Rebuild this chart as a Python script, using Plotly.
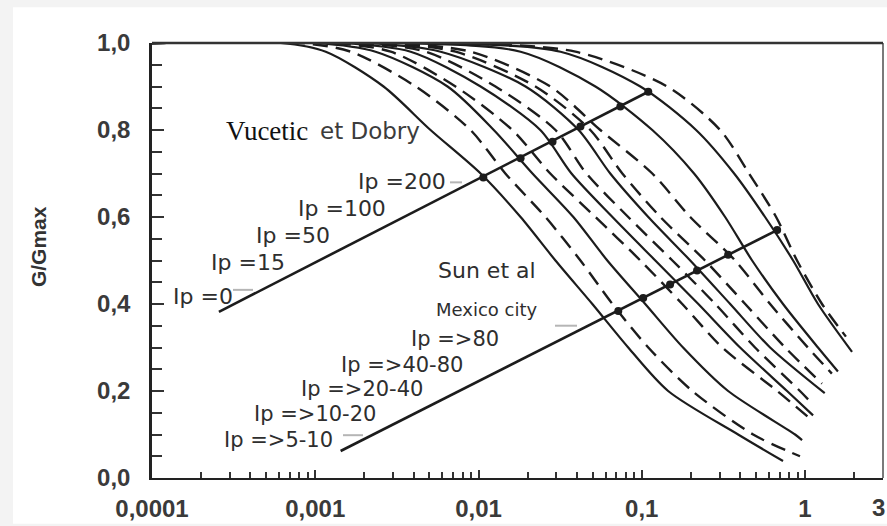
import plotly.graph_objects as go

# Shear strain (%) and G/Gmax for each degradation curve
# Vucetic & Dobry (solid)
vd_ip0_strain = [1e-4, 6.15e-4, 1.16e-3, 2.62e-3, 5.08e-3, 0.0103, 0.0181, 0.0296, 0.0498, 0.0826, 0.145, 0.389, 0.733]
vd_ip0_g = [1.0, 1.0, 0.98, 0.9, 0.8, 0.7, 0.6, 0.5, 0.4, 0.3, 0.2, 0.1, 0.039]
vd_ip15_strain = [1e-4, 1.0e-3, 2.34e-3, 6.46e-3, 0.0124, 0.0214, 0.0381, 0.0615, 0.105, 0.179, 0.338, 0.869, 0.959]
vd_ip15_g = [1.0, 1.0, 0.98, 0.9, 0.8, 0.7, 0.6, 0.5, 0.4, 0.3, 0.2, 0.1, 0.087]
vd_ip30_strain = [1e-4, 1.43e-3, 3.84e-3, 0.0103, 0.0239, 0.0371, 0.0661, 0.121, 0.222, 0.400, 0.776, 1.12]
vd_ip30_g = [1.0, 1.0, 0.98, 0.9, 0.8, 0.7, 0.6, 0.5, 0.4, 0.3, 0.2, 0.144]
vd_ip50_strain = [1e-4, 2.04e-3, 5.86e-3, 0.0194, 0.041, 0.0641, 0.1096, 0.198, 0.348, 0.611, 1.32]
vd_ip50_g = [1.0, 1.0, 0.98, 0.9, 0.8, 0.7, 0.6, 0.5, 0.4, 0.3, 0.195]
vd_ip100_strain = [1e-4, 3.33e-3, 0.0181, 0.052, 0.116, 0.209, 0.324, 0.474, 0.733, 1.20, 1.59]
vd_ip100_g = [1.0, 1.0, 0.98, 0.9, 0.8, 0.7, 0.6, 0.5, 0.4, 0.3, 0.245]
vd_ip200_strain = [1e-4, 5.08e-3, 0.0318, 0.098, 0.215, 0.368, 0.569, 0.845, 1.20, 1.94]
vd_ip200_g = [1.0, 1.0, 0.98, 0.9, 0.8, 0.7, 0.6, 0.5, 0.4, 0.29]

# Sun et al (dashed)
sun_5_10_strain = [1e-4, 8.15e-4, 1.65e-3, 4.12e-3, 8.93e-3, 0.0146, 0.0257, 0.0421, 0.0661, 0.1096, 0.204, 0.481, 0.931]
sun_5_10_g = [1.0, 1.0, 0.98, 0.9, 0.8, 0.7, 0.6, 0.5, 0.4, 0.3, 0.2, 0.1, 0.05]
sun_10_20_strain = [1e-4, 1.24e-3, 2.90e-3, 7.23e-3, 0.0161, 0.0275, 0.052, 0.098, 0.177, 0.311, 0.675, 1.07]
sun_10_20_g = [1.0, 1.0, 0.98, 0.9, 0.8, 0.7, 0.6, 0.5, 0.4, 0.3, 0.2, 0.137]
sun_20_40_strain = [1e-4, 1.77e-3, 4.74e-3, 0.0127, 0.0296, 0.0458, 0.0826, 0.154, 0.282, 0.494, 0.931, 1.10]
sun_20_40_g = [1.0, 1.0, 0.98, 0.9, 0.8, 0.7, 0.6, 0.5, 0.4, 0.3, 0.2, 0.172]
sun_40_80_strain = [1e-4, 2.34e-3, 7.23e-3, 0.0223, 0.0484, 0.0760, 0.130, 0.244, 0.430, 0.755, 1.27]
sun_40_80_g = [1.0, 1.0, 0.98, 0.9, 0.8, 0.7, 0.6, 0.5, 0.4, 0.3, 0.217]
sun_80_strain = [1e-4, 2.70e-3, 8.93e-3, 0.0275, 0.0557, 0.116, 0.198, 0.373, 0.611, 1.04, 1.46]
sun_80_g = [1.0, 1.0, 0.98, 0.9, 0.8, 0.7, 0.6, 0.5, 0.4, 0.3, 0.24]
mexico_strain = [1e-4, 6.74e-3, 0.0392, 0.143, 0.302, 0.454, 0.665, 0.893, 1.27, 1.78]
mexico_g = [1.0, 1.0, 0.98, 0.9, 0.8, 0.7, 0.6, 0.5, 0.4, 0.325]

# Reference lines joining the curves, with their crossing points
vd_line_strain = [2.57e-4, 0.1096]
vd_line_g = [0.382, 0.888]
vd_dots_strain = [0.0107, 0.0181, 0.0284, 0.0421, 0.0739, 0.1096]
vd_dots_g = [0.691, 0.735, 0.773, 0.808, 0.854, 0.888]
sun_line_strain = [1.43e-3, 0.675]
sun_line_g = [0.062, 0.570]
sun_dots_strain = [0.0718, 0.102, 0.149, 0.218, 0.338, 0.675]
sun_dots_g = [0.384, 0.414, 0.445, 0.477, 0.513, 0.570]

x_tick_vals = [0.0001, 0.001, 0.01, 0.1, 1, 3]
x_tick_text = ["0,0001", "0,001", "0,01", "0,1", "1", "3"]

INK = "#1c1c1c"

fig = go.Figure()

solid_curves = [
    (vd_ip0_strain, vd_ip0_g), (vd_ip15_strain, vd_ip15_g), (vd_ip30_strain, vd_ip30_g),
    (vd_ip50_strain, vd_ip50_g), (vd_ip100_strain, vd_ip100_g), (vd_ip200_strain, vd_ip200_g),
]
dashed_curves = [
    (sun_5_10_strain, sun_5_10_g), (sun_10_20_strain, sun_10_20_g), (sun_20_40_strain, sun_20_40_g),
    (sun_40_80_strain, sun_40_80_g), (sun_80_strain, sun_80_g), (mexico_strain, mexico_g),
]

for xs, ys in solid_curves:
    fig.add_trace(go.Scatter(x=xs, y=ys, mode="lines",
                             line=dict(color=INK, width=2.2, shape="spline", smoothing=0.8)))
for xs, ys in dashed_curves:
    fig.add_trace(go.Scatter(x=xs, y=ys, mode="lines",
                             line=dict(color=INK, width=2.4, shape="spline", smoothing=0.8,
                                       dash="15px,8px")))

fig.add_trace(go.Scatter(x=vd_line_strain, y=vd_line_g, mode="lines",
                         line=dict(color=INK, width=2.6)))
fig.add_trace(go.Scatter(x=sun_line_strain, y=sun_line_g, mode="lines",
                         line=dict(color=INK, width=2.6)))
fig.add_trace(go.Scatter(x=vd_dots_strain, y=vd_dots_g, mode="markers",
                         marker=dict(color=INK, size=8)))
fig.add_trace(go.Scatter(x=sun_dots_strain, y=sun_dots_g, mode="markers",
                         marker=dict(color=INK, size=8)))

PW, PH, L, T = 731.0, 437.0, 152.0, 43.0


def px(x):
    return (x - L) / PW


def py(y):
    return (T + PH - y) / PH


LABEL_FONT = "DejaVu Sans, sans-serif"
annotations = []


def label(text, x, y, size=22, color="#2e2e2e", family=LABEL_FONT):
    annotations.append(dict(text=text, x=px(x), y=py(y), xref="paper", yref="paper",
                            xanchor="left", yanchor="middle", showarrow=False,
                            font=dict(family=family, size=size, color=color)))


label("Vucetic", 224, 131, size=27, color="#111111", family="Liberation Serif, serif")
label("et Dobry", 318, 131, size=23, color="#3c3c3c")
label("Ip =200", 356, 182)
label("Ip =100", 296, 209)
label("Ip =50", 254, 236)
label("Ip =15", 209, 264)
label("Ip =0", 171, 298)
label("Sun et al", 436, 272)
label("Mexico city", 434, 311, size=18)
label("Ip =>80", 409, 340, size=21)
label("Ip =>40-80", 339, 366, size=21)
label("Ip =>20-40", 299, 391, size=21)
label("Ip =>10-20", 252, 416, size=21)
label("Ip =>5-10", 222, 442, size=21)

annotations.append(dict(text="<b>G/Gmax</b>", x=px(38), y=py(248), xref="paper", yref="paper",
                        textangle=-90, showarrow=False, xanchor="center", yanchor="middle",
                        font=dict(family="Liberation Sans, Arial, sans-serif", size=21,
                                  color="#333333")))

TICK_FONT = dict(family="Liberation Sans, Arial, sans-serif", size=24, color="#3a3a3a",
                 weight="bold")

# the last strain label sits on the page edge; keep it inside the page
axis_tick_text = x_tick_text[:-1] + [""]
annotations.append(dict(text=x_tick_text[-1], x=px(887), y=py(510),
                        xref="paper", yref="paper", xanchor="right", yanchor="middle",
                        showarrow=False, font=TICK_FONT))

shapes = [
    # white sheet over the grey page
    dict(type="rect", xref="paper", yref="paper", x0=px(13), x1=px(887), y0=py(526), y1=py(7),
         fillcolor="white", line=dict(width=0), layer="below"),
    # right frame edge
    dict(type="line", xref="paper", yref="paper", x0=1, x1=1, y0=0, y1=1,
         line=dict(color="#7a7a7a", width=2)),
    # top frame edge
    dict(type="line", xref="paper", yref="paper", x0=0, x1=1, y0=1, y1=1,
         line=dict(color="#333333", width=2.5)),
]
# faint leader ticks after some labels
for (x0, x1, y) in [(233, 253, 291), (450, 462, 183), (555, 577, 327), (343, 363, 437)]:
    shapes.append(dict(type="line", xref="paper", yref="paper", x0=px(x0), x1=px(x1),
                       y0=py(y), y1=py(y), line=dict(color="#b5b5b5", width=2)))

fig.update_layout(
    width=887, height=526,
    margin=dict(l=152, r=4, t=43, b=46),
    paper_bgcolor="#f3f3f3",
    plot_bgcolor="white",
    showlegend=False,
    separators=",.",
    annotations=annotations,
    shapes=shapes,
    xaxis=dict(
        type="log", range=[-4, 0.4775], showgrid=False, zeroline=False,
        showline=True, linecolor="#222222", linewidth=2, mirror=False,
        tickvals=x_tick_vals, ticktext=axis_tick_text,
        ticks="inside", ticklen=8, tickwidth=2, tickcolor="#333333",
        minor=dict(ticks="inside", ticklen=6, tickwidth=1.5, tickcolor="#333333",
                   dtick="D1", showgrid=False),
        tickfont=TICK_FONT, ticklabelstandoff=8,
    ),
    yaxis=dict(
        range=[0, 1.0], showgrid=False, zeroline=False,
        showline=True, linecolor="#222222", linewidth=2.5, mirror=False,
        dtick=0.2, tickformat=".1f",
        ticks="inside", ticklen=12, tickwidth=2, tickcolor="#333333",
        minor=dict(ticks="inside", ticklen=10, tickwidth=2, tickcolor="#333333",
                   dtick=0.05, showgrid=False),
        tickfont=TICK_FONT, ticklabelstandoff=14,
    ),
)

fig.write_html("out.html")
